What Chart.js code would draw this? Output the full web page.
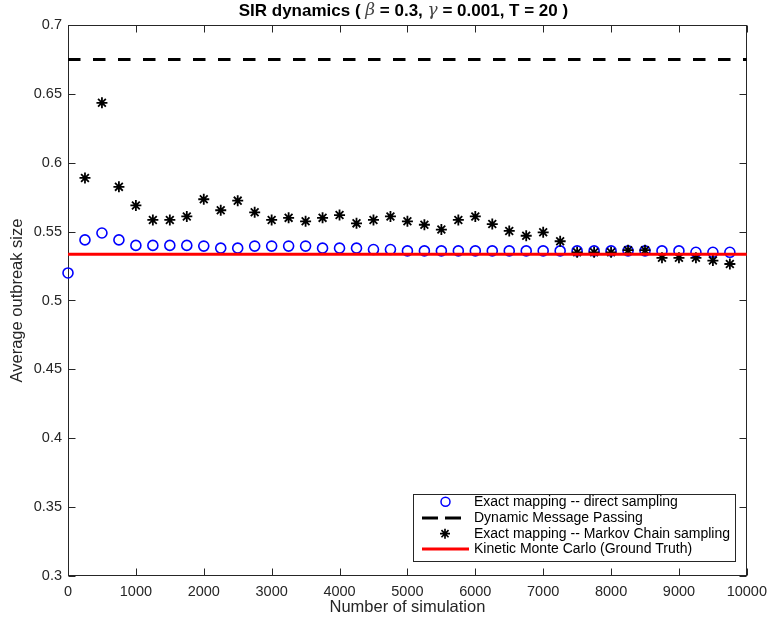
<!DOCTYPE html>
<html>
<head>
<meta charset="utf-8">
<script src="https://cdn.jsdelivr.net/npm/chart.js@4.4.1/dist/chart.umd.min.js"></script>
<style>
  html, body { margin: 0; padding: 0; background: #fff; }
  #wrap { width: 774px; height: 619px; }
</style>
</head>
<body>
<div id="wrap"><canvas id="sirChart" width="774" height="619"></canvas></div>
<script>
// number of simulations at which each estimate was taken
const simCounts = [0, 250, 500, 750, 1000, 1250, 1500, 1750, 2000, 2250,
    2500, 2750, 3000, 3250, 3500, 3750, 4000, 4250, 4500, 4750,
    5000, 5250, 5500, 5750, 6000, 6250, 6500, 6750, 7000, 7250,
    7500, 7750, 8000, 8250, 8500, 8750, 9000, 9250, 9500, 9750];

// Exact mapping -- direct sampling (blue circles)
const directSampling = [0.520, 0.544, 0.549, 0.544, 0.540, 0.540, 0.540, 0.540, 0.5395, 0.538,
    0.538, 0.5395, 0.5395, 0.5395, 0.5395, 0.538, 0.538, 0.538, 0.537, 0.537,
    0.536, 0.536, 0.536, 0.536, 0.536, 0.536, 0.536, 0.536, 0.536, 0.536,
    0.536, 0.536, 0.536, 0.536, 0.536, 0.536, 0.536, 0.535, 0.535, 0.535];

// Exact mapping -- Markov Chain sampling (stars), starts at 250
const markovSampling = [null, 0.589, 0.6435, 0.5825, 0.569, 0.5585, 0.5585, 0.561, 0.5735, 0.5655,
    0.5725, 0.564, 0.5585, 0.560, 0.5575, 0.560, 0.562, 0.556, 0.5585, 0.561,
    0.5575, 0.555, 0.5515, 0.5585, 0.561, 0.5555, 0.5505, 0.547, 0.5495, 0.543,
    0.535, 0.535, 0.535, 0.5365, 0.5365, 0.531, 0.531, 0.531, 0.529, 0.5265];

// flat reference levels
const messagePassing = 0.675;
const kineticMonteCarlo = 0.5335;

const seriesNames = [
    'Exact mapping -- direct sampling',
    'Dynamic Message Passing',
    'Exact mapping -- Markov Chain sampling',
    'Kinetic Monte Carlo (Ground Truth)'
];

const xRange = [0, 10000];
const yRange = [0.3, 0.7];

const axisColor = '#262626';
const fontFamily = '"Liberation Sans", Arial, Helvetica, sans-serif';

const toPoints = (xs, ys) => xs.map((x, i) => ({ x: x, y: ys[i] })).filter(p => p.y !== null);

// matlab style box with inward ticks
const boxPlugin = {
    id: 'boxTicks',
    beforeDatasetsDraw(chart) {
        const { ctx, chartArea: a, scales } = chart;
        const L = Math.round(a.left) + 0.5, R = Math.round(a.right) - 0.5;
        const T = Math.round(a.top) + 0.5, B = Math.round(a.bottom) - 0.5;
        ctx.save();
        ctx.strokeStyle = axisColor;
        ctx.lineWidth = 1;
        ctx.strokeRect(L, T, R - L, B - T);
        ctx.beginPath();
        scales.x.ticks.forEach(t => {
            const px = Math.round(scales.x.getPixelForValue(t.value)) + 0.5;
            ctx.moveTo(px, B); ctx.lineTo(px, B - 7);
            ctx.moveTo(px, T); ctx.lineTo(px, T + 7);
        });
        scales.y.ticks.forEach(t => {
            const py = Math.round(scales.y.getPixelForValue(t.value)) + 0.5;
            ctx.moveTo(L, py); ctx.lineTo(L + 7, py);
            ctx.moveTo(R, py); ctx.lineTo(R - 7, py);
        });
        ctx.stroke();
        ctx.restore();
    }
};

// title with greek letters in italic
const titlePlugin = {
    id: 'mixedTitle',
    afterDraw(chart) {
        const { ctx, chartArea: a } = chart;
        const bold = 'bold 17px ' + fontFamily;
        const greek = 'italic 17px "DejaVu Serif", "Liberation Serif", serif';
        const parts = [
            ['SIR dynamics ( ', bold, '#000'], ['\u03B2', greek, '#444'], [' = 0.3, ', bold, '#000'],
            ['\u03B3', greek, '#444'], [' = 0.001, T = 20 )', bold, '#000']
        ];
        ctx.save();
        ctx.textBaseline = 'middle';
        let total = 0;
        parts.forEach(p => { ctx.font = p[1]; total += ctx.measureText(p[0]).width; });
        let x = (a.left + a.right) / 2 - 4 - total / 2;
        parts.forEach(p => {
            ctx.font = p[1];
            ctx.fillStyle = p[2];
            ctx.fillText(p[0], x, 11);
            x += ctx.measureText(p[0]).width;
        });
        ctx.restore();
    }
};

// legend box in lower right corner
const legendPlugin = {
    id: 'boxLegend',
    afterDraw(chart) {
        const { ctx } = chart;
        const bx = 413.5, by = 494.5, bw = 322, bh = 67;
        const rows = [501.7, 518, 533.7, 549];
        ctx.save();
        ctx.fillStyle = '#fff';
        ctx.fillRect(bx, by, bw, bh);
        ctx.strokeStyle = axisColor;
        ctx.lineWidth = 1;
        ctx.strokeRect(bx, by, bw, bh);

        // circle
        ctx.strokeStyle = '#0000ff';
        ctx.lineWidth = 1.5;
        ctx.beginPath();
        ctx.arc(445.5, rows[0], 4.5, 0, Math.PI * 2);
        ctx.stroke();
        // dashed
        ctx.strokeStyle = '#000';
        ctx.lineWidth = 3;
        ctx.setLineDash([16, 7]);
        ctx.beginPath();
        ctx.moveTo(422, rows[1]); ctx.lineTo(461, rows[1]);
        ctx.stroke();
        ctx.setLineDash([]);
        // star
        ctx.lineWidth = 1.7;
        const r = 5, sx = 445, sy = rows[2];
        ctx.beginPath();
        for (let k = 0; k < 4; k++) {
            const ang = k * Math.PI / 4;
            ctx.moveTo(sx - r * Math.cos(ang), sy - r * Math.sin(ang));
            ctx.lineTo(sx + r * Math.cos(ang), sy + r * Math.sin(ang));
        }
        ctx.stroke();
        // red line
        ctx.strokeStyle = '#ff0000';
        ctx.lineWidth = 3;
        ctx.beginPath();
        ctx.moveTo(422, rows[3]); ctx.lineTo(469, rows[3]);
        ctx.stroke();

        ctx.fillStyle = '#000';
        ctx.font = '14px ' + fontFamily;
        ctx.textBaseline = 'middle';
        seriesNames.forEach((name, i) => ctx.fillText(name, 474, rows[i]));
        ctx.restore();
    }
};

const ctx = document.getElementById('sirChart').getContext('2d');
new Chart(ctx, {
    type: 'scatter',
    data: {
        datasets: [
            {
                label: seriesNames[0],
                data: toPoints(simCounts, directSampling),
                pointStyle: 'circle',
                pointRadius: 5,
                pointBorderWidth: 1.6,
                borderColor: '#0000ff',
                backgroundColor: 'rgba(0,0,0,0)',
                clip: false,
                order: 4
            },
            {
                label: seriesNames[1],
                data: toPoints(xRange, [messagePassing, messagePassing]),
                showLine: true,
                pointRadius: 0,
                borderColor: '#000',
                borderWidth: 3,
                borderDash: [12.5, 12.5],
                order: 3
            },
            {
                label: seriesNames[2],
                data: toPoints(simCounts, markovSampling),
                pointStyle: 'star',
                pointRadius: 5.5,
                pointBorderWidth: 1.8,
                borderColor: '#000',
                backgroundColor: '#000',
                clip: false,
                order: 2
            },
            {
                label: seriesNames[3],
                data: toPoints(xRange, [kineticMonteCarlo, kineticMonteCarlo]),
                showLine: true,
                pointRadius: 0,
                borderColor: '#ff0000',
                borderWidth: 3,
                order: 1
            }
        ]
    },
    options: {
        responsive: false,
        animation: false,
        devicePixelRatio: 1,
        layout: { padding: { left: 0, right: 19, top: 25, bottom: 0 } },
        plugins: {
            legend: { display: false },
            title: { display: false },
            tooltip: { enabled: false }
        },
        scales: {
            x: {
                type: 'linear',
                min: xRange[0],
                max: xRange[1],
                afterFit: s => { s.height = 43; },
                grid: { display: false, drawTicks: false },
                border: { display: false },
                ticks: {
                    stepSize: 1000,
                    padding: 7,
                    maxRotation: 0,
                    color: axisColor,
                    font: { family: fontFamily, size: 14.5 },
                    callback: v => String(v)
                },
                title: {
                    display: true,
                    text: 'Number of simulation',
                    color: axisColor,
                    font: { family: fontFamily, size: 16.5 },
                    padding: { top: 0, bottom: 2 }
                }
            },
            y: {
                type: 'linear',
                min: yRange[0],
                max: yRange[1],
                afterFit: s => { s.width = 68; },
                grid: { display: false, drawTicks: false },
                border: { display: false },
                ticks: {
                    stepSize: 0.05,
                    padding: 6,
                    color: axisColor,
                    font: { family: fontFamily, size: 14.5 },
                    callback: v => String(parseFloat(v.toFixed(2)))
                },
                title: {
                    display: true,
                    text: 'Average outbreak size',
                    color: axisColor,
                    font: { family: fontFamily, size: 16.5 },
                    padding: { top: 8, bottom: 0 }
                }
            }
        }
    },
    plugins: [boxPlugin, titlePlugin, legendPlugin]
});
</script>
</body>
</html>
